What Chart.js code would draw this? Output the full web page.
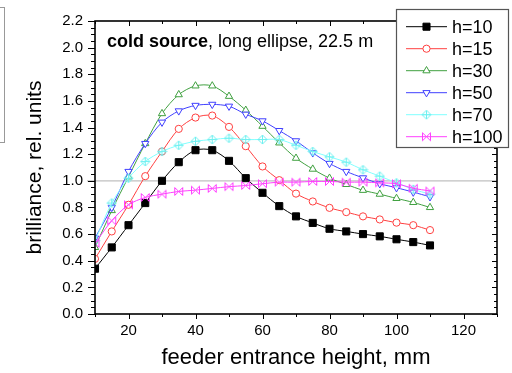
<!DOCTYPE html>
<html><head><meta charset="utf-8">
<script src="https://cdn.jsdelivr.net/npm/chart.js@4/dist/chart.umd.min.js"></script>
<style>
html,body{margin:0;padding:0;background:#fff;}
#wrap{position:relative;width:512px;height:373px;}
#sidebox{position:absolute;left:-2px;top:7px;width:5px;height:134px;border:1px solid #999;}
</style></head>
<body><div id="wrap"><div id="sidebox"></div><canvas id="c" width="512" height="373"></canvas></div>
<script>
const heights = [10,15,20,25,30,35,40,45,50,55,60,65,70,75,80,85,90,95,100,105,110];
const h10  = [0.34,0.50,0.667,0.833,1.00,1.14,1.23,1.23,1.15,1.02,0.91,0.81,0.733,0.684,0.64,0.62,0.60,0.583,0.561,0.54,0.515];
const h15  = [0.414,0.62,0.82,1.035,1.22,1.39,1.475,1.49,1.405,1.26,1.108,1.005,0.904,0.845,0.797,0.765,0.733,0.71,0.686,0.667,0.63];
const h30  = [0.50,0.777,1.03,1.28,1.505,1.647,1.713,1.713,1.635,1.53,1.41,1.285,1.17,1.088,1.02,0.973,0.929,0.90,0.868,0.838,0.80];
const h50  = [0.57,0.80,1.07,1.28,1.44,1.525,1.566,1.574,1.56,1.50,1.45,1.377,1.30,1.21,1.13,1.07,1.022,0.978,0.948,0.915,0.88];
const h70  = [0.55,0.833,1.02,1.145,1.22,1.267,1.297,1.31,1.32,1.31,1.31,1.31,1.267,1.22,1.18,1.14,1.083,1.035,0.985,0.936,0.90];
const h100 = [0.53,0.70,0.82,0.875,0.90,0.92,0.93,0.943,0.956,0.965,0.978,0.99,0.99,0.995,0.995,0.99,0.99,0.985,0.978,0.944,0.924];
const seriesLabels = ['h=10','h=15','h=30','h=50','h=70','h=100'];
const xTickLabels = [20,40,60,80,100,120];
const yTickLabels = ['0.0','0.2','0.4','0.6','0.8','1.0','1.2','1.4','1.6','1.8','2.0','2.2'];
const refValue = 1.0;

function mk(draw){const c=document.createElement('canvas');c.width=11;c.height=11;const g=c.getContext('2d');draw(g);return c;}
const cyanMark = mk(g=>{g.strokeStyle='#70f0f0';g.lineWidth=1;g.beginPath();g.moveTo(5.5,1);g.lineTo(10,5.5);g.lineTo(5.5,10);g.lineTo(1,5.5);g.closePath();g.moveTo(5.5,1);g.lineTo(5.5,10);g.moveTo(1,5.5);g.lineTo(10,5.5);g.stroke();});
const magMark = mk(g=>{g.strokeStyle='#ff40ff';g.lineWidth=1;g.beginPath();g.moveTo(1.5,1.5);g.lineTo(9.5,9.5);g.moveTo(9.5,1.5);g.lineTo(1.5,9.5);g.moveTo(1.5,1.5);g.lineTo(1.5,9.5);g.moveTo(9.5,1.5);g.lineTo(9.5,9.5);g.stroke();});

const styles = [
 {color:'#000000', pointStyle:'rect', radius:5, fill:'#000000', rot:0},
 {color:'#ff4040', pointStyle:'circle', radius:3.6, fill:'#ffffff', rot:0},
 {color:'#40a040', pointStyle:'triangle', radius:4.2, fill:'#ffffff', rot:0},
 {color:'#4040ff', pointStyle:'triangle', radius:4.2, fill:'#ffffff', rot:180},
 {color:'#80ffff', pointStyle:cyanMark, radius:5, fill:'#ffffff', rot:0},
 {color:'#ff40ff', pointStyle:magMark, radius:5, fill:'#ffffff', rot:0}
];
const allSeries=[h10,h15,h30,h50,h70,h100];
const datasets = allSeries.map((s,i)=>({
  label: seriesLabels[i],
  data: heights.map((x,j)=>({x:x,y:s[j]})),
  borderColor: styles[i].color,
  backgroundColor: styles[i].fill,
  borderWidth: 1,
  pointStyle: styles[i].pointStyle,
  pointRadius: styles[i].radius,
  pointRotation: styles[i].rot,
  pointBorderWidth: 1,
  pointBackgroundColor: styles[i].fill,
  pointBorderColor: styles[i].color,
  tension: 0.3,
  order: 6-i
}));

const FONT='"Liberation Sans", Arial, sans-serif';
const framePlugin = {
  id:'frame',
  beforeDatasetsDraw(chart){
    const {ctx, chartArea:a, scales:{x,y}} = chart;
    const yy = y.getPixelForValue(refValue);
    ctx.save();
    ctx.strokeStyle='#c0c0c0'; ctx.lineWidth=1.2;
    ctx.beginPath(); ctx.moveTo(87,yy); ctx.lineTo(a.right,yy); ctx.stroke();
    ctx.restore();
  },
  afterDatasetsDraw(chart){
    const {ctx, chartArea:a, scales:{x,y}} = chart;
    ctx.save();
    ctx.strokeStyle='#000'; ctx.lineWidth=1;
    ctx.beginPath();
    for(let v=0; v<=2.2001; v+=0.05){
      const p=Math.round(y.getPixelForValue(v))+0.5;
      const major = Math.abs(v/0.2-Math.round(v/0.2))<1e-6;
      const lo = major?7:4, ro = major?5:3;
      ctx.moveTo(a.left-lo,p); ctx.lineTo(a.left,p);
      ctx.moveTo(a.right,p); ctx.lineTo(a.right-ro,p);
    }
    for(let v=10; v<=130; v+=10){
      const p=Math.round(x.getPixelForValue(v))+0.5;
      const major = v%20===0;
      const l = major?5:3;
      ctx.moveTo(p,a.bottom); ctx.lineTo(p,a.bottom+l);
      ctx.moveTo(p,a.top); ctx.lineTo(p,a.top+l);
    }
    ctx.stroke();
    ctx.lineWidth=1.6;
    ctx.strokeRect(a.left,a.top,a.right-a.left,a.bottom-a.top);
    ctx.fillStyle='#000'; ctx.textBaseline='alphabetic';
    ctx.font='bold 18px '+FONT;
    const t1='cold source'; ctx.fillText(t1,107,47);
    const w=ctx.measureText(t1).width;
    ctx.font='18px '+FONT;
    ctx.fillText(', long ellipse, 22.5 m',107+w,47);
    ctx.restore();
  },
  afterDraw(chart){
    const {ctx} = chart;
    ctx.save();
    const bx=396.5, by=9.5, bw=112, bh=138;
    ctx.fillStyle='#fff'; ctx.fillRect(bx,by,bw,bh);
    ctx.strokeStyle='#555'; ctx.lineWidth=1.2; ctx.strokeRect(bx,by,bw,bh);
    chart.data.datasets.forEach((d,i)=>{
      const yy = 26.7 + i*22;
      ctx.strokeStyle=d.borderColor; ctx.lineWidth=1;
      ctx.beginPath(); ctx.moveTo(406,yy); ctx.lineTo(447,yy); ctx.stroke();
      ctx.lineWidth=1; ctx.fillStyle=d.pointBackgroundColor; ctx.strokeStyle=d.pointBorderColor;
      Chart.helpers.drawPoint(ctx,{pointStyle:d.pointStyle,rotation:d.pointRotation,radius:d.pointRadius,borderWidth:1},426.5,yy);
      ctx.fillStyle='#000'; ctx.font='18px '+FONT; ctx.textBaseline='middle';
      ctx.fillText(d.label,452,yy+1);
    });
    ctx.restore();
  }
};

new Chart(document.getElementById('c'),{
  type:'line',
  data:{datasets},
  options:{
    responsive:false, animation:false,
    layout:{padding:{top:15,right:15,left:0,bottom:0}},
    plugins:{legend:{display:false},tooltip:{enabled:false}},
    scales:{
      x:{type:'linear',min:10,max:130,
        afterFit(s){s.height=59;},
        grid:{display:false,drawTicks:false},border:{display:false},
        ticks:{stepSize:10,autoSkip:false,maxRotation:0,padding:8,color:'#000',
          font:{family:FONT,size:15},
          callback:v=>xTickLabels.includes(Math.round(v))?String(Math.round(v)):null},
        title:{display:true,text:'feeder entrance height, mm',color:'#000',
          font:{family:FONT,size:22,lineHeight:1},padding:{top:0,bottom:4}}
      },
      y:{type:'linear',min:0,max:2.2,
        afterFit(s){s.width=95;},
        grid:{display:false,drawTicks:false},border:{display:false},
        ticks:{stepSize:0.2,autoSkip:false,padding:12,color:'#000',
          font:{family:FONT,size:15},
          callback:(v)=>{const i=Math.round(v/0.2);return Math.abs(v-i*0.2)<1e-6?yTickLabels[i]:null;}},
        title:{display:true,text:'brilliance, rel. units',color:'#000',
          font:{family:FONT,size:21,lineHeight:1},padding:{top:25,bottom:0}}
      }
    }
  },
  plugins:[framePlugin]
});
</script></body></html>
